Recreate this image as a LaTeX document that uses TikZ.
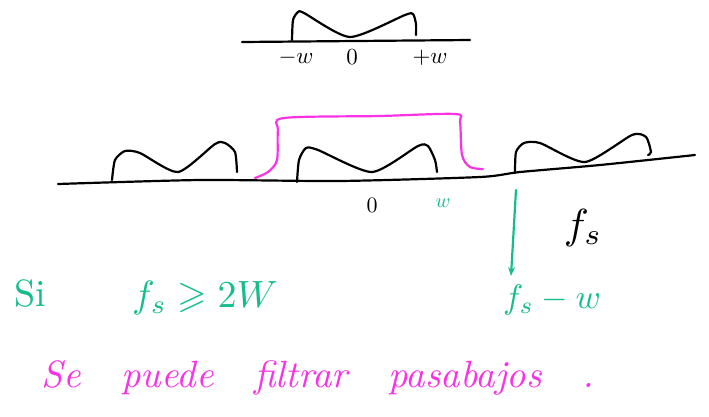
\documentclass[tikz,border=0pt]{standalone}
\usepackage{amsmath,amssymb}
\usepackage{graphicx}
\usetikzlibrary{arrows.meta,positioning}
\definecolor{inkgreen}{RGB}{20,190,140}
\definecolor{inkpink}{RGB}{250,50,230}
\newcommand{\inkbig}[2]{\scalebox{#1}{#2}}

\begin{document}
\begin{tikzpicture}[x=1pt,y=-1pt,line cap=round,line join=round]
  \useasboundingbox (0,0) rectangle (709,416);
  % original spectrum
  \draw[line width=2.2pt] (242,42) -- (470,40);
  \draw[line width=2.2pt] plot[smooth,tension=0.4] coordinates {(292,40) (293,20) (298,12) (304,13) (350,37) (405,15) (413,14) (416,24) (416,35)};
  \node (mw) at (296,58) {\inkbig{2.3}{$-w$}};
  \node (zero) at (352,57) {\inkbig{2.3}{$0$}};
  \node (pw) at (430,58) {\inkbig{2.3}{$+w$}};

  % sampled spectrum
  \draw[line width=2.2pt] plot[smooth,tension=0.4] coordinates {(58,184) (200,180) (340,181) (480,177) (520,172) (600,165) (695,155)};
  \draw[line width=2.2pt] plot[smooth,tension=0.4] coordinates {(112,180) (115,160) (125,151) (140,153) (178,172) (215,144) (225,143) (235,152) (237,172)};
  \draw[line width=2.2pt] plot[smooth,tension=0.4] coordinates {(297,182) (299,160) (306,148) (318,150) (372,172) (418,146) (428,146) (435,160) (437,172)};
  \draw[line width=2.2pt] plot[smooth,tension=0.4] coordinates {(515,173) (516,152) (524,143) (540,143) (585,162) (632,135) (646,137) (651,152) (648,155)};

  % ideal low-pass filter
  \draw[inkpink,line width=2.2pt] plot[smooth,tension=0.5] coordinates {(255,178) (268,172) (277,160) (278,130) (284,118) (380,116) (455,114) (460,122) (462,155) (470,167) (483,169)};

  \node (zc) at (372,205) {\inkbig{2.2}{$0$}};
  \node[inkgreen] (wc) at (443,203) {\inkbig{2}{$w$}};
  \node (fs) at (583,228) {\inkbig{4.2}{$f_s$}};

  % alias of fs
  \coordinate (alias) at (516,190);
  \node[inkgreen] (fsw) at (552,300) {\inkbig{3.4}{$f_s - w$}};
  \draw[-{Stealth[length=9pt]},inkgreen,line width=2.2pt] (alias) -- (511,276);

  \node[inkgreen] (si) at (30,294) {\inkbig{3.8}{Si}};
  \node[inkgreen] (cond) at (205,298) {\inkbig{3.8}{$f_s \geqslant 2W$}};

  \node[inkpink] (note) at (318,378) {\inkbig{3.8}{\itshape Se\ \ \ puede\ \ \ filtrar\ \ \ pasabajos\ \ \ .}};
\end{tikzpicture}
\end{document}
